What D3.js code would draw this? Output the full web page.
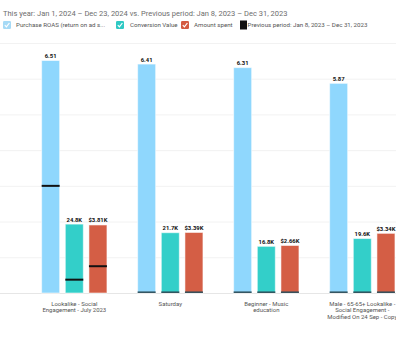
<!DOCTYPE html>
<html><head><meta charset="utf-8">
<script src="https://cdn.jsdelivr.net/npm/d3@7"></script>
<style>
html,body{margin:0;padding:0;background:#fff;overflow:hidden;}
svg{display:block;font-family:Roboto, "Liberation Sans", Arial, sans-serif;}
</style></head>
<body>
<svg id="chart" width="396" height="337"></svg>
<script>
const categories = [
  "Lookalike - Social Engagement - July 2023",
  "Saturday",
  "Beginner - Music education",
  "Male - 65-65+ Lookalike - Social Engagement - Modified On 24 Sep - Copy"
];
const categoryLines = [
  ["Lookalike - Social", "Engagement - July 2023"],
  ["Saturday"],
  ["Beginner - Music", "education"],
  ["Male - 65-65+ Lookalike -", "Social Engagement -", "Modified On 24 Sep - Copy"]
];
const seriesNames = ["Purchase ROAS (return on ad s...", "Conversion Value", "Amount spent"];
const roas = [6.51, 6.41, 6.31, 5.87];
const conversionValue = [24800, 21700, 16800, 19600];
const amountSpent = [3810, 3390, 2660, 3340];
const roasPrev = [3.0, 0, 0, 0];
const conversionPrev = [4800, 0, 0, 0];
const amountPrev = [1500, 0, 0, 0];
const roasLabels = ["6.51", "6.41", "6.31", "5.87"];
const conversionLabels = ["24.8K", "21.7K", "16.8K", "19.6K"];
const amountLabels = ["$3.81K", "$3.39K", "$2.66K", "$3.34K"];
const colors = ["#8fd7fd", "#33cfc9", "#d45e45"];
const title = "This year: Jan 1, 2024 \u2013 Dec 23, 2024 vs. Previous period: Jan 8, 2023 \u2013 Dec 31, 2023";
const prevLegend = "Previous period: Jan 8, 2023 \u2013 Dec 31, 2023";

(function () {
const svg = d3.select("#chart");
const plotTop = 43, base = 293;

function fitSize(sample, target, weight) {
  const t = svg.append("text").attr("font-size", 10).attr("font-weight", weight || "normal").text(sample);
  const w = t.node().getComputedTextLength();
  t.remove();
  return 10 * target / w;
}
const titleSize = fitSize(title, 285);
const legendSize = fitSize(prevLegend, 120);
const catSize = fitSize("Engagement - July 2023", 64);
const valSize = fitSize("$3.81K", 19, "bold");

// gridlines
const yGrid = d3.scaleLinear().domain([0, 7]).range([base, plotTop]);
svg.append("g").selectAll("line").data(d3.range(0, 8)).join("line")
  .attr("x1", 0).attr("x2", 396)
  .attr("y1", d => yGrid(d) + 0.5).attr("y2", d => yGrid(d) + 0.5)
  .attr("stroke", d => d === 0 ? "#e6e6e6" : "#f2f2f2").attr("stroke-width", 1);

const x0 = d3.scaleBand().domain(categories).range([26.3, 410.3]).paddingInner(0.32).paddingOuter(0.16);
const x1 = d3.scaleBand().domain([0, 1, 2]).range([0, x0.bandwidth()]).paddingInner(0.239);
const yScales = [
  d3.scaleLinear().domain([0, 7]).range([base, plotTop]),
  d3.scaleLinear().domain([0, 90000]).range([base, plotTop]),
  d3.scaleLinear().domain([0, 14000]).range([base, plotTop])
];
const values = [roas, conversionValue, amountSpent];
const prevs = [roasPrev, conversionPrev, amountPrev];
const labels = [roasLabels, conversionLabels, amountLabels];

const rows = [];
categories.forEach((c, i) => {
  for (let s = 0; s < 3; s++) rows.push({c, i, s, v: values[s][i], p: prevs[s][i], l: labels[s][i]});
});

const g = svg.append("g");
g.selectAll("rect.bar").data(rows).join("rect").attr("class", "bar")
  .attr("x", d => x0(d.c) + x1(d.s))
  .attr("y", d => yScales[d.s](d.v))
  .attr("width", x1.bandwidth())
  .attr("height", d => base - yScales[d.s](d.v))
  .attr("fill", d => colors[d.s])
  .attr("stroke", "rgba(255,255,255,0.55)").attr("stroke-width", 1);

g.selectAll("line.prev").data(rows).join("line").attr("class", "prev")
  .attr("x1", d => x0(d.c) + x1(d.s))
  .attr("x2", d => x0(d.c) + x1(d.s) + x1.bandwidth())
  .attr("y1", d => Math.min(yScales[d.s](d.p), base - 0.8))
  .attr("y2", d => Math.min(yScales[d.s](d.p), base - 0.8))
  .attr("stroke", d => d.p === 0 ? "#2f4f5a" : "#111")
  .attr("stroke-width", d => d.p === 0 ? 1.5 : 2);

g.selectAll("text.val").data(rows).join("text").attr("class", "val")
  .attr("x", d => x0(d.c) + x1(d.s) + x1.bandwidth() / 2)
  .attr("y", d => yScales[d.s](d.v) - 2.5)
  .attr("text-anchor", "middle")
  .attr("font-size", valSize).attr("font-weight", "bold").attr("fill", "#111")
  .text(d => d.l);

// category labels
const catG = svg.append("g");
categories.forEach((c, i) => {
  const cx = x0(c) + x0.bandwidth() / 2;
  const t = catG.append("text")
    .attr("x", cx).attr("y", 305.5)
    .attr("text-anchor", "middle").attr("font-size", catSize).attr("fill", "#555");
  categoryLines[i].forEach((ln, k) => {
    t.append("tspan").attr("x", cx).attr("dy", k === 0 ? 0 : 6.8).text(ln);
  });
});

// title
svg.append("text").attr("x", 3).attr("y", 15.5).attr("font-size", titleSize).attr("fill", "#6d6d6d").text(title);

// legend
const leg = svg.append("g");
const legItems = [
  {x: 3, color: "#a6daf6", text: seriesNames[0], tx: 16},
  {x: 116, color: "#2fc9c4", text: seriesNames[1], tx: 130},
  {x: 181, color: "#d45a41", text: seriesNames[2], tx: 194}
];
legItems.forEach(it => {
  leg.append("rect").attr("x", it.x).attr("y", 21).attr("width", 8).attr("height", 8).attr("rx", 1.2).attr("fill", it.color);
  leg.append("path").attr("d", `M${it.x + 1.8},${25.2} L${it.x + 3.4},${26.8} L${it.x + 6.4},${23}`)
    .attr("fill", "none").attr("stroke", "#fff").attr("stroke-width", 1.2);
  leg.append("text").attr("x", it.tx).attr("y", 27.3).attr("font-size", legendSize).attr("fill", "#555").text(it.text);
});
leg.append("rect").attr("x", 240).attr("y", 20.5).attr("width", 7).attr("height", 9).attr("fill", "#111");
leg.append("text").attr("x", 247.5).attr("y", 27.3).attr("font-size", legendSize).attr("fill", "#555").text(prevLegend);
})();
</script>
</body></html>
